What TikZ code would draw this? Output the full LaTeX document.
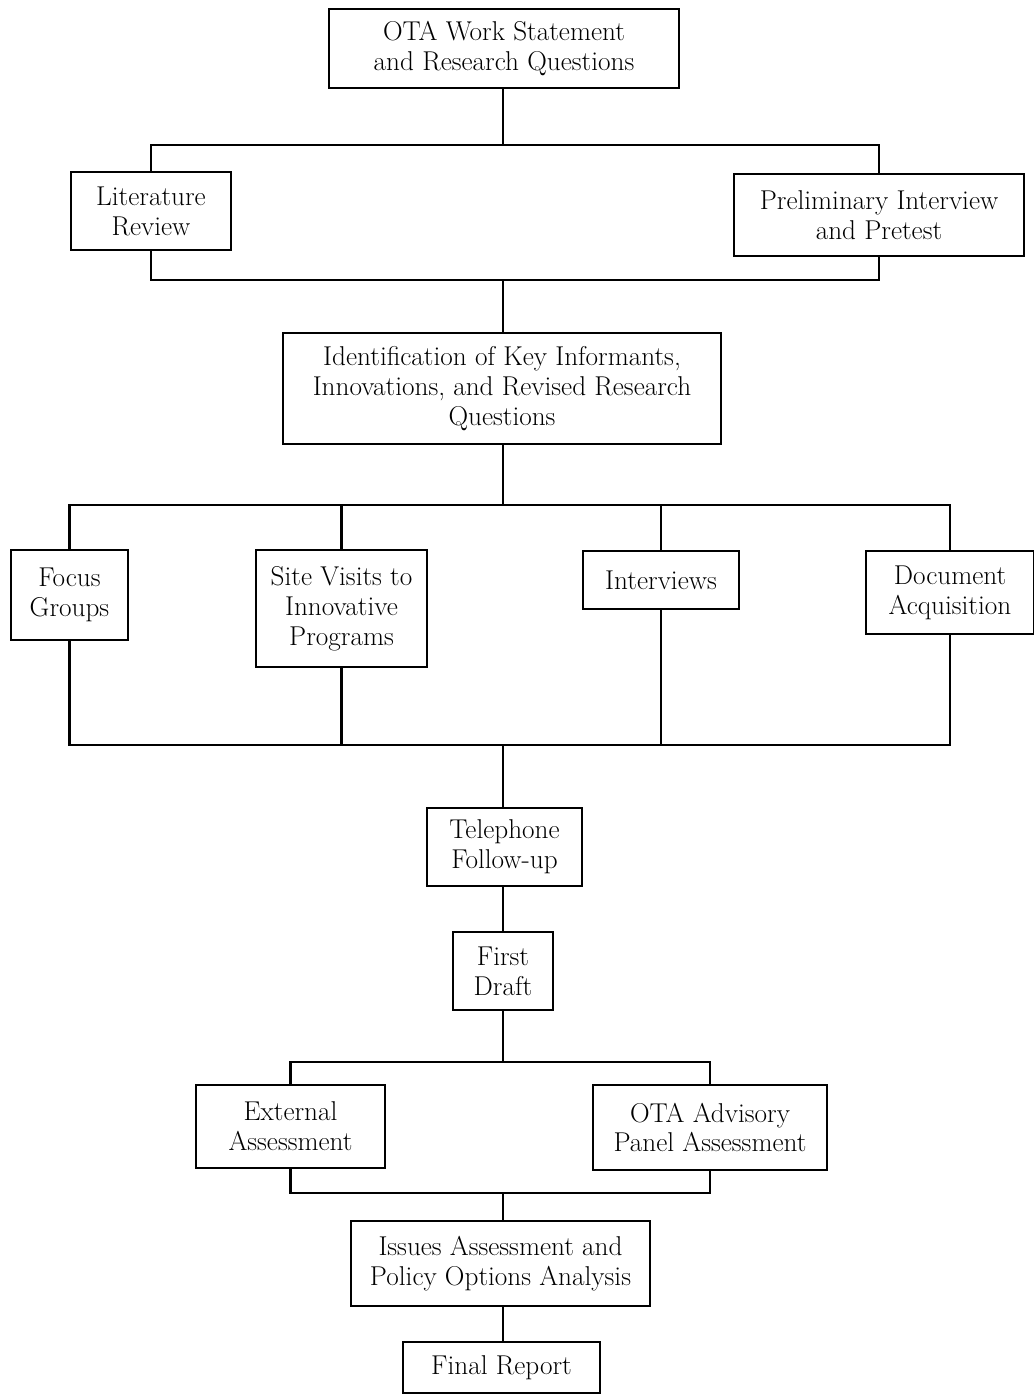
\documentclass[tikz,border=0pt]{standalone}
\usepackage{xcolor}
\tikzset{
	stage/.style={draw, line width=1.5pt, align=center, inner sep=2pt,
		font=\fontsize{15.5}{17}\selectfont},
	link/.style={line width=1.4pt}
}

\begin{document}
\begin{tikzpicture}[x=0.02cm,y=-0.02cm]

			\useasboundingbox (0,0) rectangle (1034,1396);

			\node[stage, minimum width=7cm, minimum height=1.58cm] (ota) at (504,48.5) {OTA Work Statement\\and Research Questions};
			\node[stage, minimum width=3.2cm, minimum height=1.56cm] (lit) at (151,211) {Literature\\Review};
			\node[stage, minimum width=5.8cm, minimum height=1.64cm] (pre) at (879,215) {Preliminary Interview\\and Pretest};
			\node[stage, minimum width=8.76cm, minimum height=2.22cm] (ident) at (502,388.5) {Identification of Key Informants,\\Innovations, and Revised Research\\Questions};

			\node[stage, minimum width=2.34cm, minimum height=1.8cm] (focus) at (69.5,595) {Focus\\Groups};
			\node[stage, minimum width=3.42cm, minimum height=2.34cm] (site) at (341.5,608.5) {Site Visits to\\Innovative\\Programs};
			\node[stage, minimum width=3.12cm, minimum height=1.16cm] (inter) at (661,580) {Interviews};
			\node[stage, minimum width=3.36cm, minimum height=1.66cm] (doc) at (950,592.5) {Document\\Acquisition};

			\node[stage, minimum width=3.1cm, minimum height=1.56cm] (tel) at (504.5,847) {Telephone\\Follow-up};
			\node[stage, minimum width=2cm, minimum height=1.56cm] (draft) at (503,971) {First\\Draft};

			\node[stage, minimum width=3.78cm, minimum height=1.66cm] (ext) at (290.5,1126.5) {External\\Assessment};
			\node[stage, minimum width=4.68cm, minimum height=1.7cm] (adv) at (710,1127.5) {OTA Advisory\\Panel Assessment};
			\node[stage, minimum width=5.98cm, minimum height=1.7cm] (issues) at (500.5,1263.5) {Issues Assessment and\\Policy Options Analysis};
			\node[stage, minimum width=3.94cm, minimum height=1.02cm] (final) at (501.5,1367.5) {Final Report};

			\coordinate (b1) at (503,145);
			\coordinate (b2) at (503,280);
			\coordinate (b3) at (503,505);
			\coordinate (b4) at (503,745);
			\coordinate (b5) at (503,1062);
			\coordinate (b6) at (503,1193);

			\draw[link] (ota.south -| b1) -- (b1);
			\draw[link] (lit.north) |- (b1) -| (pre.north);
			\draw[link] (lit.south) |- (b2) -| (pre.south);
			\draw[link] (b2) -- (ident.north -| b2);

			\draw[link] (ident.south -| b3) -- (b3);
			\draw[link] (focus.north) |- (b3) -| (doc.north);
			\draw[link] (site.north) -- (site.north |- b3);
			\draw[link] (inter.north) -- (inter.north |- b3);
			\draw[link] (focus.south) |- (b4) -| (doc.south);
			\draw[link] (site.south) -- (site.south |- b4);
			\draw[link] (inter.south) -- (inter.south |- b4);

			\draw[link] (b4) -- (tel.north -| b4);
			\draw[link] (tel.south -| b4) -- (draft.north -| b4);
			\draw[link] (draft.south -| b5) -- (b5);
			\draw[link] (ext.north) |- (b5) -| (adv.north);
			\draw[link] (ext.south) |- (b6) -| (adv.south);
			\draw[link] (b6) -- (issues.north -| b6);
			\draw[link] (issues.south -| b6) -- (final.north -| b6);

		\end{tikzpicture}
\end{document}
